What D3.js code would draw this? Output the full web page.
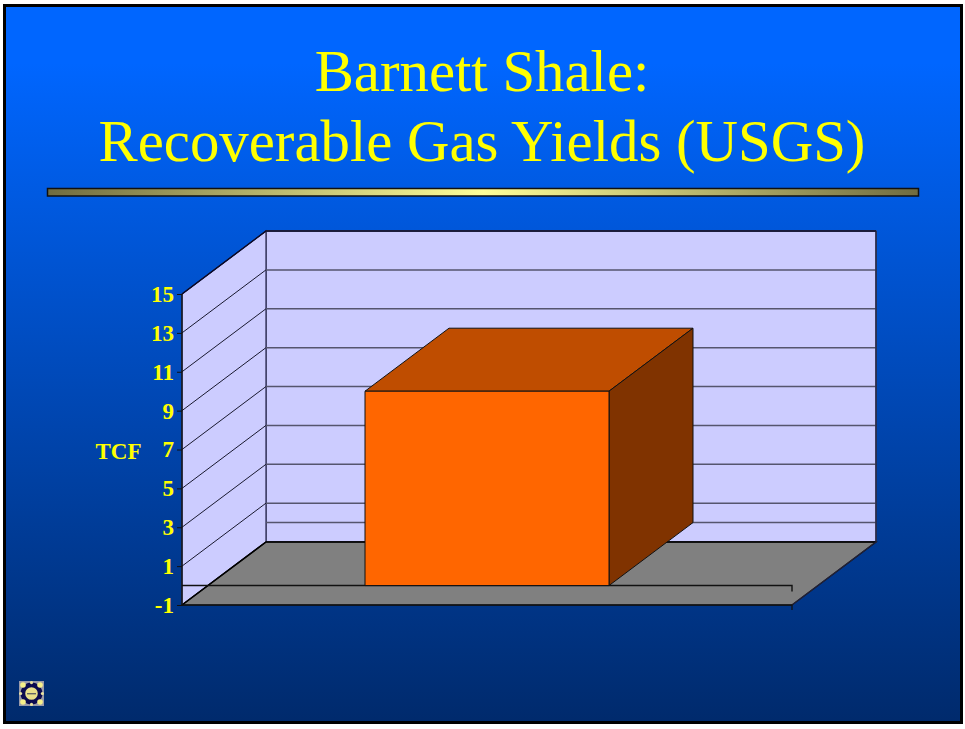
<!DOCTYPE html>
<html><head><meta charset="utf-8">
<script src="https://cdn.jsdelivr.net/npm/d3@7"></script>
<style>html,body{margin:0;padding:0;background:#fff}svg{display:block}</style>
</head><body><svg id="c" width="965" height="729"></svg>
<script>
const titleLines = ["Barnett Shale:", "Recoverable Gas Yields (USGS)"];
const categories = ["Barnett Shale"];
const values = [10];
const yTicks = [-1, 1, 3, 5, 7, 9, 11, 13, 15];
const yTitle = "TCF";
const svg = d3.select("#c");
const defs = svg.append("defs");
const bg = defs.append("linearGradient").attr("id","bg").attr("x1",0).attr("x2",0).attr("y1",0).attr("y2",1);
bg.append("stop").attr("offset",0.08).attr("stop-color","#0066ff");
bg.append("stop").attr("offset",1).attr("stop-color","#002a6c");
const rule = defs.append("linearGradient").attr("id","rule");
rule.append("stop").attr("offset",0).attr("stop-color","#706c40");
rule.append("stop").attr("offset",0.5).attr("stop-color","#ffff99");
rule.append("stop").attr("offset",1).attr("stop-color","#706c40");
svg.append("rect").attr("x",4.5).attr("y",5.5).attr("width",957).attr("height",717).attr("fill","url(#bg)").attr("stroke","#000").attr("stroke-width",3);
svg.append("g").selectAll("text").data(titleLines).join("text")
  .attr("x",482).attr("y",(d,i)=>91+i*70).attr("text-anchor","middle")
  .attr("font-family","'Liberation Serif',serif").attr("font-size",58.8).attr("fill","#ffff00").text(d=>d);
svg.append("rect").attr("x",47.5).attr("y",188.5).attr("width",871).attr("height",7.5).attr("fill","url(#rule)").attr("stroke","#111").attr("stroke-width",1.5);

// 3D chart frame
const dx = 84, dy = -63;
const y = d3.scaleLinear().domain([-1,15]).range([605,294]);
const x = d3.scaleBand().domain(categories).range([182,792]).paddingInner(0).paddingOuter(0.75);
const line = d3.line();
const g = svg.append("g");
const poly = (pts,fill,stroke,sw)=>g.append("path").attr("d",line(pts)+"Z").attr("fill",fill).attr("stroke",stroke||"none").attr("stroke-width",sw||1).attr("stroke-linejoin","miter");
const x0=x.range()[0], x1=x.range()[1];
const yb=y(-1), yt=y(15);
// back wall and side wall
poly([[x0+dx,yt+dy],[x1+dx,yt+dy],[x1+dx,yb+dy],[x0+dx,yb+dy]],"#ccccff","#44446a",1.5);
poly([[x0,yt],[x0+dx,yt+dy],[x0+dx,yb+dy],[x0,yb]],"#ccccff","#33335a",1.3);
// floor
poly([[x0,yb],[x0+dx,yb+dy],[x1+dx,yb+dy],[x1,yb]],"#808080","#111",1.2);
// gridlines: side-wall part, then back-wall part
const gridVals = yTicks.slice(1).concat([0]);
g.append("g").selectAll("path").data(yTicks.slice(1)).join("path")
  .attr("d",d=>line([[x0,y(d)],[x0+dx,y(d)+dy]]))
  .attr("fill","none").attr("stroke","#1a1a30").attr("stroke-width",1);
g.append("g").selectAll("path").data(gridVals).join("path")
  .attr("d",d=>line([[x0+dx,y(d)+dy],[x1+dx,y(d)+dy]]))
  .attr("fill","none").attr("stroke","#55556e").attr("stroke-width",1.5);
// wall outline top
g.append("path").attr("d",line([[x0,yt],[x0+dx,yt+dy],[x1+dx,yt+dy]])).attr("fill","none").attr("stroke","#0a0a2a").attr("stroke-width",1.3);
g.append("path").attr("d",line([[x0,yb],[x0+dx,yb+dy],[x1+dx,yb+dy]])).attr("fill","none").attr("stroke","#000").attr("stroke-width",1.5);
g.append("path").attr("d",line([[x1+dx,yt+dy],[x1+dx,yb+dy],[x1,yb]])).attr("fill","none").attr("stroke","#22223a").attr("stroke-width",1.2);
// zero plane
g.append("path").attr("d",line([[x0,y(0)],[x1,y(0)],[x1,y(0)+6]])).attr("fill","none").attr("stroke","#111").attr("stroke-width",1.4);
// base line + ticks
g.append("path").attr("d",line([[x0,yb],[x1,yb],[x1,yb+5]])).attr("fill","none").attr("stroke","#111").attr("stroke-width",1.3);
g.append("path").attr("d",line([[x0,yt],[x0,yb]])).attr("fill","none").attr("stroke","#111").attr("stroke-width",1.3);
// bar
const barG = g.append("g").selectAll("g").data(categories.map((c,i)=>({c,v:values[i]}))).join("g");
barG.each(function(d){
  const s=d3.select(this), l=x(d.c), r=l+x.bandwidth(), t=y(d.v), b=y(0);
  const p=(pts,f)=>s.append("path").attr("d",line(pts)+"Z").attr("fill",f).attr("stroke","#111").attr("stroke-width",1).attr("stroke-linejoin","round");
  p([[l,t],[l+dx,t+dy],[r+dx,t+dy],[r,t]],"#bf4d00");
  p([[r,t],[r+dx,t+dy],[r+dx,b+dy],[r,b]],"#803300");
  p([[l,t],[r,t],[r,b],[l,b]],"#ff6600");
});
// y axis labels
const axis = d3.axisLeft(y).tickValues(yTicks).tickSize(5).tickPadding(3).tickFormat(d=>String(d));
const ag = svg.append("g").attr("transform",`translate(${x0},0)`).call(axis);
ag.select(".domain").remove();
ag.selectAll("line").attr("stroke","#111");
ag.selectAll("text").attr("font-family","'Liberation Serif',serif").attr("font-weight","bold").attr("font-size",23).attr("fill","#ffff00");
svg.append("text").attr("x",118.5).attr("y",459).attr("text-anchor","middle").attr("font-family","'Liberation Serif',serif").attr("font-weight","bold").attr("font-size",23).attr("fill","#ffff00").text(yTitle);

// navigation icon
const ic = svg.append("g").attr("transform","translate(19,681)");
ic.append("rect").attr("width",25).attr("height",25).attr("fill","#9a9aa8");
ic.append("circle").attr("cx",12.5).attr("cy",12.5).attr("r",8.6).attr("fill","#e9e08a").attr("stroke","#0b0b50").attr("stroke-width",4.6);
[[4,4],[21,4],[4,21],[21,21]].forEach(c=>ic.append("circle").attr("cx",c[0]).attr("cy",c[1]).attr("r",2.8).attr("fill","#f6f08a"));
[[12.5,1.6],[12.5,23.4],[1.6,12.5],[23.4,12.5]].forEach(c=>ic.append("circle").attr("cx",c[0]).attr("cy",c[1]).attr("r",1.6).attr("fill","#e8e2a0"));
ic.append("rect").attr("x",8).attr("y",12).attr("width",9).attr("height",1.4).attr("fill","#666");
</script></body></html>
